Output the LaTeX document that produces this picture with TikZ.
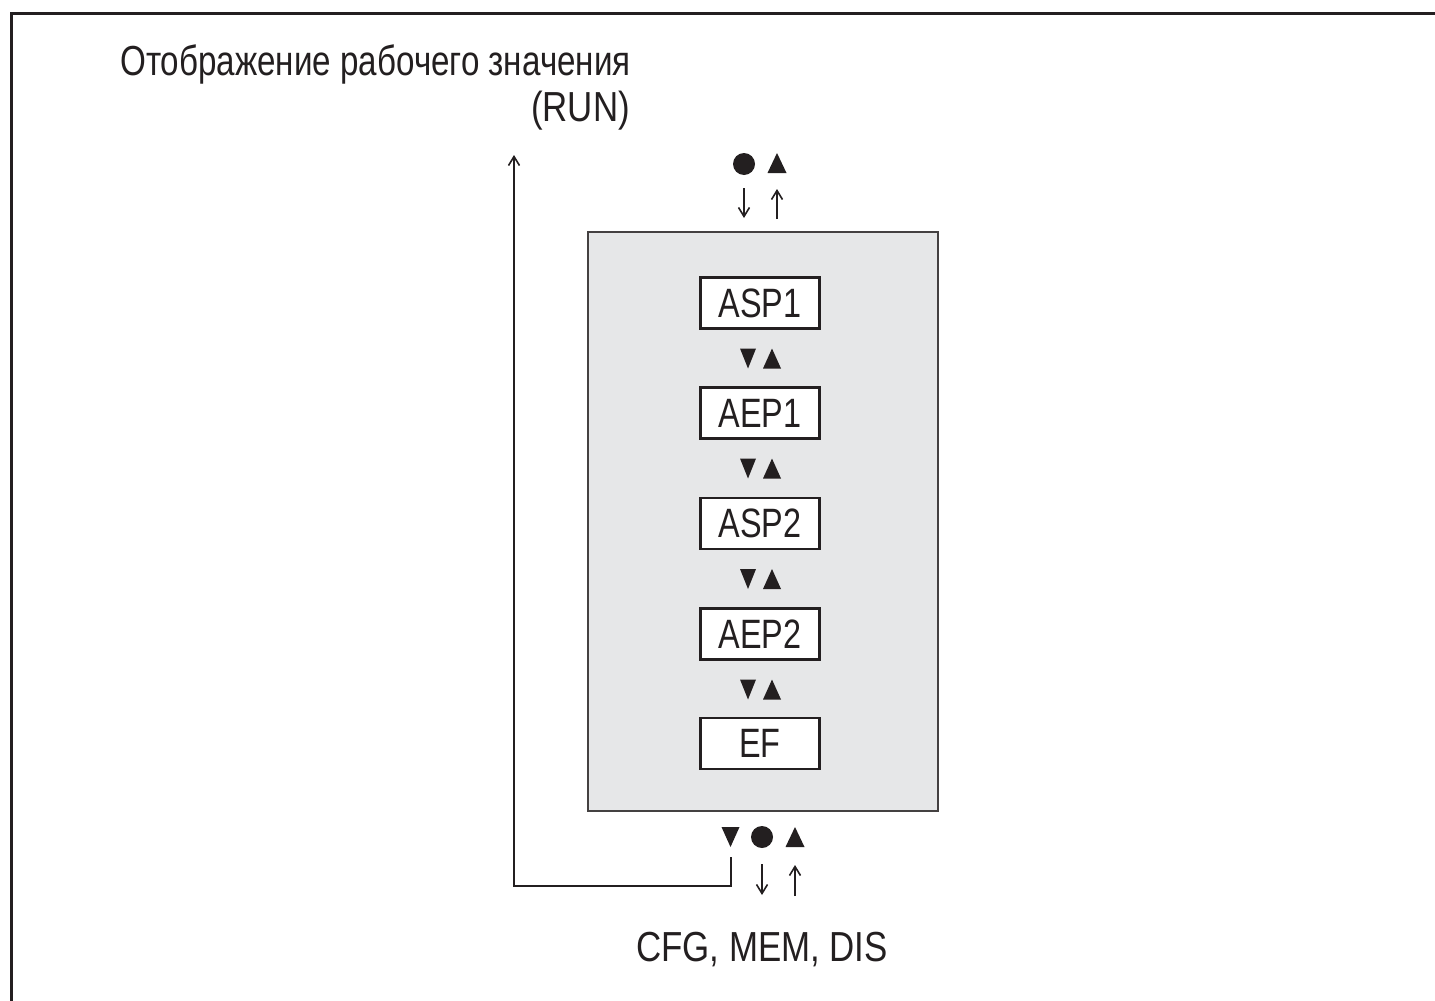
\documentclass[tikz,border=0pt]{standalone}
\usepackage{fontspec}
\setmainfont{Liberation Sans}[FakeStretch=0.83]
\newfontfamily\narrowfont{Liberation Sans}[FakeStretch=0.79]
\usetikzlibrary{arrows.meta}
\definecolor{panelgray}{HTML}{E6E7E8}
\definecolor{ink}{HTML}{231F20}
\begin{document}
\begin{tikzpicture}[x=1pt,y=-1pt,
  lbl/.style={inner sep=0pt, font=\fontsize{42}{50}\selectfont, text=ink},
  parbox/.style={draw=ink, line width=2.5pt, fill=white, minimum width=119pt, minimum height=51pt, inner sep=0pt, font=\narrowfont\fontsize{41}{50}\selectfont, text=ink},
  panel/.style={draw=ink!85, line width=1.5pt, fill=panelgray, minimum width=350pt, minimum height=579pt, inner sep=0pt},
  thinarrow/.style={draw=ink, line width=1.6pt, -{Straight Barb[length=9pt,width=11pt,line width=1.6pt]}},
  conn/.style={draw=ink, line width=2pt, -{Straight Barb[length=9pt,width=11pt,line width=1.6pt]}},
  sym/.style={fill=ink}
]
\useasboundingbox (0,0) rectangle (1435,1001);
% frame
\draw[ink, line width=3pt] (11.5,1001) -- (11.5,13.5) -- (1435,13.5);

% texts
\node[lbl, font=\narrowfont\fontsize{42}{50}\selectfont, anchor=base west] (title) at (120,75) {Отображение рабочего значения};
\node[lbl, anchor=base east] (run) at (630,121) {(RUN)};
\node[lbl, anchor=base] (cfg) at (762,961) {CFG, MEM, DIS};

% panel
\node[panel] (panel) at (763,521.5) {};

% parameter boxes
\node[parbox] (asp1) at (760,303) {ASP1};
\node[parbox] (aep1) at (760,413) {AEP1};
\node[parbox] (asp2) at (760,523.5) {ASP2};
\node[parbox] (aep2) at (760,634) {AEP2};
\node[parbox] (ef)   at (760,743.5) {EF};

% small down/up triangles between boxes
\foreach \yy in {358.5,468.5,579,689.5}{
  \fill[sym] (740,\yy-10) -- (756,\yy-10) -- (748,\yy+10) -- cycle;
  \fill[sym] (763,\yy+10) -- (781,\yy+10) -- (772,\yy-10) -- cycle;
}

% top symbols
\fill[sym] (744,164) circle (11);
\fill[sym] (767.5,173) -- (786.5,173) -- (777,153) -- cycle;
\coordinate (tdA) at (744,188);
\coordinate (tdB) at (744,218);
\coordinate (tuA) at (777,219);
\coordinate (tuB) at (777,189);
\draw[thinarrow] (tdA) -- (tdB);
\draw[thinarrow] (tuA) -- (tuB);

% bottom symbols
\fill[sym] (721.5,827) -- (739.5,827) -- (730.5,847) -- cycle;
\fill[sym] (762,837) circle (11);
\fill[sym] (785.5,847) -- (804.5,847) -- (795,827) -- cycle;
\coordinate (bdA) at (762,864);
\coordinate (bdB) at (762,895);
\coordinate (buA) at (795,896);
\coordinate (buB) at (795,865);
\draw[thinarrow] (bdA) -- (bdB);
\draw[thinarrow] (buA) -- (buB);

% return connector to RUN
\coordinate (cfgstart) at (731,857);
\coordinate (runend) at (514,155);
\draw[conn] (cfgstart) -- ++(0,29) -| (runend);
\end{tikzpicture}
\end{document}
